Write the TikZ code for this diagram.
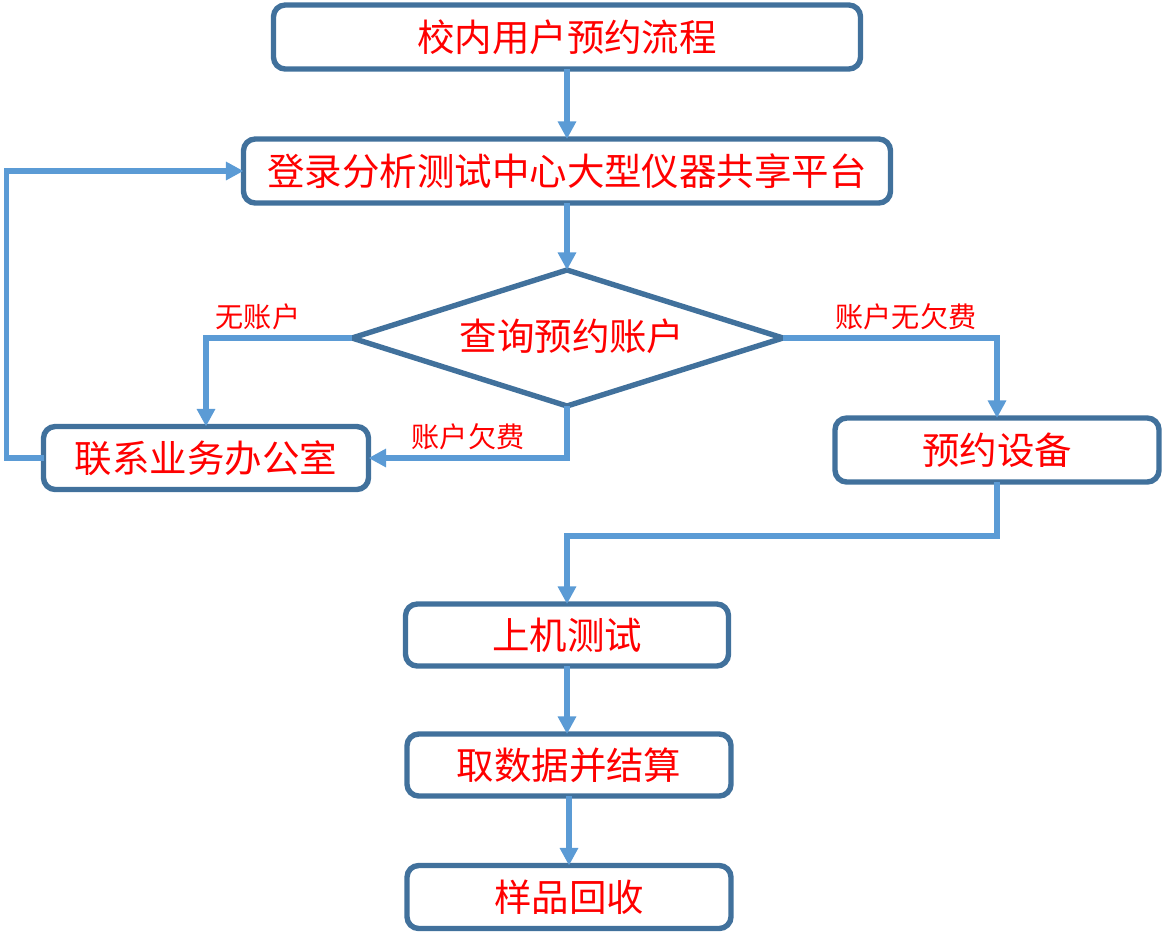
\documentclass[tikz,border=0pt]{standalone}
\usepackage{fontspec}
\newfontfamily\cjk{Noto Sans CJK SC}
\usetikzlibrary{arrows.meta}
\definecolor{boxblue}{HTML}{41719C}
\definecolor{linkblue}{HTML}{5B9BD5}
\definecolor{txtred}{HTML}{FF0000}
\def\pxu{0.03cm}
\tikzset{
  stepbox/.style={draw=boxblue, line width=4.6pt, rounded corners=10pt, fill=white,
    text=txtred, font=\cjk\fontsize{32}{36}\selectfont, inner sep=0pt, outer sep=0pt},
  diamondline/.style={draw=boxblue, line width=4.6pt, line join=miter, fill=white},
  bigtext/.style={text=txtred, font=\cjk\fontsize{32}{36}\selectfont, inner sep=0pt},
  link/.style={draw=linkblue, line width=4.6pt, -{Triangle[length=15pt,width=15pt]}},
  lab/.style={text=txtred, font=\cjk\fontsize{24}{27}\selectfont, inner sep=0pt}
}
\begin{document}
\begin{tikzpicture}[x=0.03cm,y=-0.03cm]
\useasboundingbox (0,0) rectangle (1164,943);
\node[stepbox, minimum width=587*\pxu, minimum height=64*\pxu] (b1) at (567,37) {校内用户预约流程};
\node[stepbox, minimum width=647*\pxu, minimum height=64*\pxu] (b2) at (567,171) {登录分析测试中心大型仪器共享平台};
\coordinate (dN) at (567,270);
\coordinate (dS) at (567,406);
\coordinate (dW) at (352,338);
\coordinate (dE) at (783,338);
\draw[diamondline] (dN) -- (dE) -- (dS) -- (dW) -- cycle;
\node[bigtext] (d) at (572,336) {查询预约账户};
\node[stepbox, minimum width=325*\pxu, minimum height=63*\pxu] (b4) at (206,458) {联系业务办公室};
\node[stepbox, minimum width=324*\pxu, minimum height=64*\pxu] (b5) at (997,450) {预约设备};
\node[stepbox, minimum width=323*\pxu, minimum height=62*\pxu] (b6) at (567,635) {上机测试};
\node[stepbox, minimum width=324*\pxu, minimum height=62*\pxu] (b7) at (569,765) {取数据并结算};
\node[stepbox, minimum width=324*\pxu, minimum height=63*\pxu] (b8) at (569,897) {样品回收};

\node[lab] (l1) at (258,317) {无账户};
\node[lab] (l2) at (906,317) {账户无欠费};
\node[lab] (l3) at (468,437) {账户欠费};

\draw[link] (b1.south) -- (b2.north);
\draw[link] (b2.south) -- (dN);
\draw[link] (dW) -| (b4.north);
\draw[link] (dE) -| (b5.north);
\draw[link] (dS) |- (b4.east);
\draw[link] (b4.west) -- ++(-37,0) |- (b2.west);
\draw[link] (b5.south) -- ++(0,54) -| (b6.north);
\draw[link] (b6.south) -- (b6.south |- b7.north);
\draw[link] (b7.south) -- (b8.north);
\end{tikzpicture}
\end{document}
